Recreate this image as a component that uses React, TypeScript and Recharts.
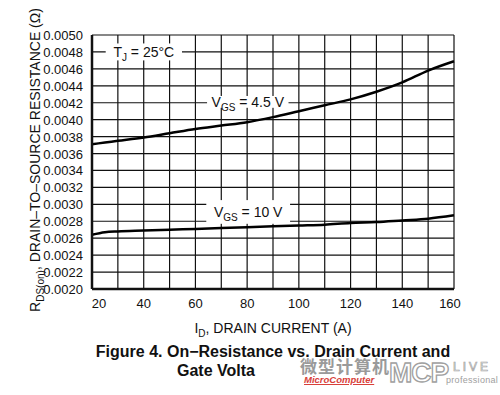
import React from "react";
import {
  CartesianGrid,
  Line,
  LineChart,
  ReferenceArea,
  XAxis,
  YAxis,
} from "recharts";

const current = [20, 25, 30, 40, 50, 60, 70, 80, 90, 100, 110, 120, 130, 140, 150, 160];
const rdsVgs45 = [
  0.00371, 0.00373, 0.00375, 0.00379, 0.00384, 0.00389, 0.00393, 0.00397,
  0.00403, 0.0041, 0.00417, 0.00424, 0.00433, 0.00444, 0.00458, 0.00469,
];
const rdsVgs10 = [
  0.00264, 0.00267, 0.00268, 0.00269, 0.0027, 0.00271, 0.00272, 0.00273,
  0.00274, 0.00275, 0.00276, 0.00278, 0.00279, 0.00281, 0.00283, 0.00287,
];

const xGridTicks = [20, 30, 40, 50, 60, 70, 80, 90, 100, 110, 120, 130, 140, 150, 160];
const xTickLabels = [20, 40, 60, 80, 100, 120, 140, 160];
const yTicks = [
  0.002, 0.0022, 0.0024, 0.0026, 0.0028, 0.003, 0.0032, 0.0034, 0.0036,
  0.0038, 0.004, 0.0042, 0.0044, 0.0046, 0.0048, 0.005,
];

// annotation boxes in data units: [x1, x2, y1, y2], main text, subscript, rest
const notes = [
  { box: [25.3, 54.8, 0.0047, 0.0049], main: "T", sub: "J", rest: " = 25°C" },
  { box: [64.5, 96, 0.00414, 0.00428], main: "V", sub: "GS", rest: " = 4.5 V" },
  { box: [64.2, 96.6, 0.00277, 0.00305], main: "V", sub: "GS", rest: " = 10 V" },
];

const data = current.map((id, i) => ({ id, v45: rdsVgs45[i], v10: rdsVgs10[i] }));

const FONT = "'Liberation Sans', Arial, Helvetica, sans-serif";

const XTick = (props: any) => {
  const { x, y, payload } = props;
  if (!xTickLabels.includes(payload.value)) return null;
  const first = payload.value === xTickLabels[0];
  const last = payload.value === xTickLabels[xTickLabels.length - 1];
  return (
    <text
      x={x + (first ? 7 : last ? -4 : 0)}
      y={y + 11}
      textAnchor="middle"
      fontSize={13}
      fontFamily={FONT}
      fill="#111"
    >
      {payload.value}
    </text>
  );
};

const YTick = (props: any) => {
  const { x, y, payload } = props;
  return (
    <text x={x - 1} y={y + 5} textAnchor="end" fontSize={13} fontFamily={FONT} fill="#111">
      {payload.value.toFixed(4)}
    </text>
  );
};

const noteShape = (note: (typeof notes)[number]) => (props: any) => {
  const { x, y, width, height } = props;
  return (
    <g>
      <rect x={x} y={y} width={width} height={height} fill="#fff" />
      <text
        x={x + width / 2}
        y={y + height / 2 + 5}
        textAnchor="middle"
        fontSize={14}
        fontFamily={FONT}
        fill="#111"
      >
        {note.main}
        <tspan fontSize={10} dy={4}>
          {note.sub}
        </tspan>
        <tspan dy={-4}>{note.rest}</tspan>
      </text>
    </g>
  );
};

const YLabel = (props: any) => {
  const { viewBox } = props;
  const cx = 35;
  const cy = viewBox.y + viewBox.height / 2 - 2;
  return (
    <text
      transform={`translate(${cx},${cy}) rotate(-90)`}
      textAnchor="middle"
      fontSize={14}
      fontFamily={FONT}
      fill="#111"
      dy={5}
    >
      R
      <tspan fontSize={10} dy={4}>
        DS(on)
      </tspan>
      <tspan dy={-4}>, DRAIN–TO–SOURCE RESISTANCE (Ω)</tspan>
    </text>
  );
};

const XLabel = (props: any) => {
  const { viewBox } = props;
  return (
    <text
      x={viewBox.x + viewBox.width / 2}
      y={333}
      textAnchor="middle"
      fontSize={14}
      fontFamily={FONT}
      fill="#111"
    >
      I
      <tspan fontSize={10} dy={4}>
        D
      </tspan>
      <tspan dy={-4}>, DRAIN CURRENT (A)</tspan>
    </text>
  );
};

export default function App() {
  return (
    <div
      style={{
        position: "absolute",
        left: 0,
        top: 0,
        width: 500,
        height: 395,
        background: "#fff",
        fontFamily: FONT,
        overflow: "hidden",
      }}
    >
      <LineChart
        width={500}
        height={395}
        data={data}
        margin={{ top: 35, right: 46, bottom: 76, left: 32 }}
      >
        <CartesianGrid stroke="#111" strokeWidth={1.2} strokeOpacity={1} />
        <XAxis
          dataKey="id"
          type="number"
          domain={[20, 160]}
          ticks={xGridTicks}
          interval={0}
          height={30}
          tickLine={false}
          axisLine={{ stroke: "#111", strokeWidth: 2.5 }}
          tick={<XTick />}
          label={<XLabel />}
        />
        <YAxis
          type="number"
          domain={[0.002, 0.005]}
          ticks={yTicks}
          interval={0}
          width={60}
          tickLine={false}
          axisLine={{ stroke: "#111", strokeWidth: 2.5 }}
          tick={<YTick />}
          label={<YLabel />}
        />
        {notes.map((n, i) => (
          <ReferenceArea
            key={i}
            x1={n.box[0]}
            x2={n.box[1]}
            y1={n.box[2]}
            y2={n.box[3]}
            shape={noteShape(n)}
            ifOverflow="visible"
          />
        ))}
        <Line
          type="monotone"
          dataKey="v45"
          stroke="#000"
          strokeWidth={2.5}
          dot={false}
          isAnimationActive={false}
        />
        <Line
          type="monotone"
          dataKey="v10"
          stroke="#000"
          strokeWidth={2.5}
          dot={false}
          isAnimationActive={false}
        />
      </LineChart>
      <div
        style={{
          position: "absolute",
          left: 0,
          top: 343,
          width: 546,
          textAlign: "center",
          fontWeight: "bold",
          fontSize: 16,
          color: "#111",
          whiteSpace: "nowrap",
        }}
      >
        Figure 4. On−Resistance vs. Drain Current and
      </div>
      <div
        style={{
          position: "absolute",
          left: 177,
          top: 362,
          fontWeight: "bold",
          fontSize: 16,
          color: "#111",
          whiteSpace: "nowrap",
        }}
      >
        Gate Volta
      </div>
      <div
        style={{
          position: "absolute",
          left: 300,
          top: 355,
          fontFamily: "'Noto Sans CJK SC', sans-serif",
          fontWeight: "bold",
          fontSize: 17,
          color: "#9a9a9a",
          letterSpacing: 1,
          whiteSpace: "nowrap",
          lineHeight: "22px",
        }}
      >
        微型计算机
      </div>
      <div
        style={{
          position: "absolute",
          left: 304,
          top: 374,
          fontStyle: "italic",
          fontWeight: "bold",
          fontSize: 9.5,
          color: "#d8403a",
          whiteSpace: "nowrap",
          lineHeight: "11px",
          textDecoration: "underline",
        }}
      >
        MicroComputer
      </div>
      <div
        style={{
          position: "absolute",
          left: 389,
          top: 359,
          fontSize: 28,
          fontWeight: "bold",
          color: "#fff",
          WebkitTextStroke: "1.3px #a0a0a0",
          whiteSpace: "nowrap",
          lineHeight: "28px",
          letterSpacing: -1,
        }}
      >
        MCP
      </div>
      <div
        style={{
          position: "absolute",
          left: 453,
          top: 361,
          fontSize: 12,
          color: "#fff",
          WebkitTextStroke: "0.7px #a0a0a0",
          whiteSpace: "nowrap",
          lineHeight: "12px",
          letterSpacing: 3,
        }}
      >
        LIVE
      </div>
      <div
        style={{
          position: "absolute",
          left: 446,
          top: 375,
          fontSize: 9,
          color: "#a0a0a0",
          letterSpacing: 0.3,
          whiteSpace: "nowrap",
          lineHeight: "10px",
        }}
      >
        professional
      </div>
    </div>
  );
}
